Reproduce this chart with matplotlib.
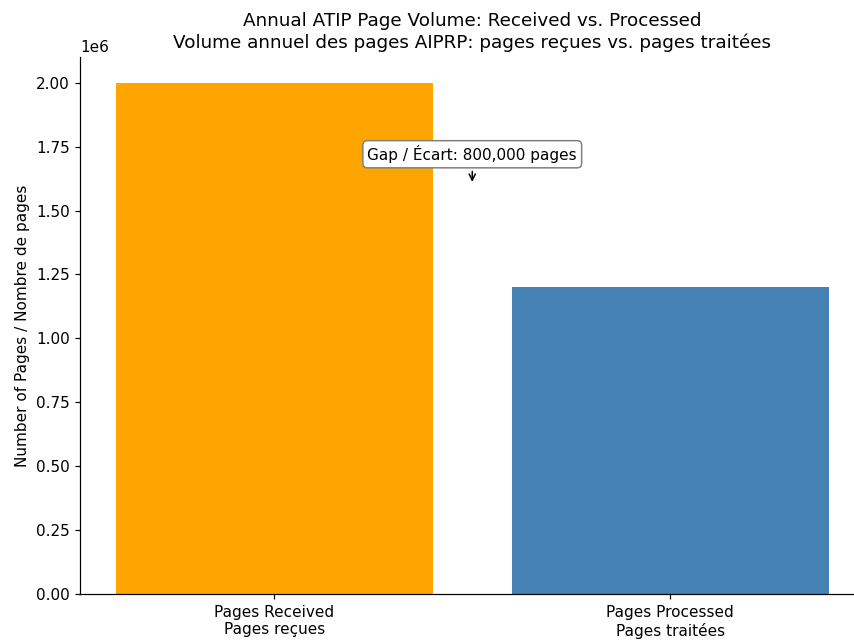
import matplotlib
matplotlib.use("Agg")
from matplotlib import pyplot as plt

categories = ["Pages Received\nPages reçues", "Pages Processed\nPages traitées"]
pages = [2000000, 1200000]
colors = ["orange", "steelblue"]
gap = pages[0] - pages[1]

fig, ax = plt.subplots(figsize=(854 / 110, 641 / 110), dpi=110)
ax.bar(categories, pages, color=colors)
ax.set_ylim(0, 2.1e6)
ax.set_ylabel("Number of Pages / Nombre de pages")
ax.set_title("Annual ATIP Page Volume: Received vs. Processed\n"
             "Volume annuel des pages AIPRP: pages reçues vs. pages traitées")
ax.spines["top"].set_visible(False)
ax.spines["right"].set_visible(False)

ax.annotate(f"Gap / Écart: {gap:,} pages", xy=(0.5, 1.6e6), xytext=(0.5, 1.72e6),
            ha="center", va="center", fontsize=10,
            bbox=dict(boxstyle="round,pad=0.3", fc="white", ec="gray"),
            arrowprops=dict(arrowstyle="->", color="black"))

# the reference is cropped on the right, so the axes run past the edge
fig.subplots_adjust(left=0.094, right=1.012, bottom=0.073, top=0.911)
plt.savefig("out.png")
